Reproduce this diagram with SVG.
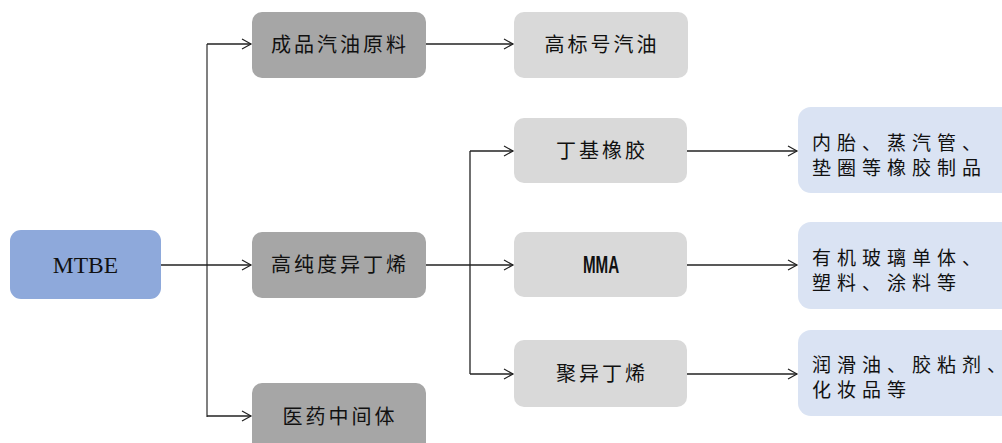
<svg xmlns="http://www.w3.org/2000/svg" width="1002" height="443" viewBox="0 0 1002 443">
<defs>
<marker id="arr" markerWidth="12" markerHeight="12" refX="10" refY="6" orient="auto" markerUnits="userSpaceOnUse">
<path d="M1,1 L10,6 L1,11" fill="none" stroke="#222" stroke-width="1.2"/>
</marker>
<style>
.cn{font-family:"Noto Sans CJK SC",sans-serif;font-size:20px;fill:#111;letter-spacing:3px}
.rt{font-family:"Noto Sans CJK SC",sans-serif;font-size:19px;fill:#111;letter-spacing:6px}
.ln{fill:none;stroke:#222;stroke-width:1.3}
.d{fill:#A6A6A6}
.l{fill:#D9D9D9}
.b{fill:#DAE3F3}
</style>
</defs>
<rect width="1002" height="443" fill="#fff"/>
<g id="connectors">
<path d="M207,44 V417" fill="none" stroke="#808080" stroke-width="2"/>
<path class="ln" d="M161,265 H251" marker-end="url(#arr)"/>
<path class="ln" d="M207,44 H251" marker-end="url(#arr)"/>
<path class="ln" d="M207,416 H251" marker-end="url(#arr)"/>
<path class="ln" d="M426,44 H513" marker-end="url(#arr)"/>
<path class="ln" d="M426,265 H513" marker-end="url(#arr)"/>
<path class="ln" d="M470,151 V374"/>
<path class="ln" d="M470,151 H513" marker-end="url(#arr)"/>
<path class="ln" d="M470,374 H513" marker-end="url(#arr)"/>
<path class="ln" d="M687,151 H797" marker-end="url(#arr)"/>
<path class="ln" d="M687,265 H797" marker-end="url(#arr)"/>
<path class="ln" d="M687,374 H797" marker-end="url(#arr)"/>
</g>
<g id="mtbe"><rect x="10" y="230" width="151" height="69" rx="11" fill="#8EA9DB"/><text x="85.5" y="273" text-anchor="middle" font-family="Liberation Serif,serif" font-size="23.5" fill="#111">MTBE</text></g>
<g id="n1"><rect class="d" x="252" y="12" width="174" height="66" rx="10"/><text class="cn" x="340" y="52" text-anchor="middle">成品汽油原料</text></g>
<g id="n2"><rect class="d" x="252" y="232" width="174" height="66" rx="10"/><text class="cn" x="340" y="272" text-anchor="middle">高纯度异丁烯</text></g>
<g id="n3"><rect class="d" x="252" y="383" width="174" height="70" rx="10"/><text class="cn" x="340" y="424" text-anchor="middle">医药中间体</text></g>
<g id="n4"><rect class="l" x="514" y="12" width="174" height="66" rx="10"/><text class="cn" x="602" y="52" text-anchor="middle">高标号汽油</text></g>
<g id="n5"><rect class="l" x="514" y="118" width="173" height="65" rx="10"/><text class="cn" x="602" y="158" text-anchor="middle">丁基橡胶</text></g>
<g id="n6"><rect class="l" x="514" y="232" width="173" height="65" rx="10"/><text x="0" y="273" text-anchor="middle" font-family="Liberation Sans,sans-serif" font-weight="bold" font-size="23" fill="#111" transform="translate(601,0) scale(0.66,1)">MMA</text></g>
<g id="n7"><rect class="l" x="514" y="340" width="173" height="67" rx="10"/><text class="cn" x="602" y="381" text-anchor="middle">聚异丁烯</text></g>
<g id="r1"><rect class="b" x="798" y="107" width="220" height="86" rx="13"/><text class="rt" x="812" y="150">内胎、蒸汽管、</text><text class="rt" x="812" y="175">垫圈等橡胶制品</text></g>
<g id="r2"><rect class="b" x="798" y="222" width="220" height="87" rx="13"/><text class="rt" x="812" y="265">有机玻璃单体、</text><text class="rt" x="812" y="290">塑料、涂料等</text></g>
<g id="r3"><rect class="b" x="798" y="330" width="220" height="86" rx="13"/><text class="rt" x="812" y="372">润滑油、胶粘剂、</text><text class="rt" x="812" y="397">化妆品等</text></g>
</svg>
